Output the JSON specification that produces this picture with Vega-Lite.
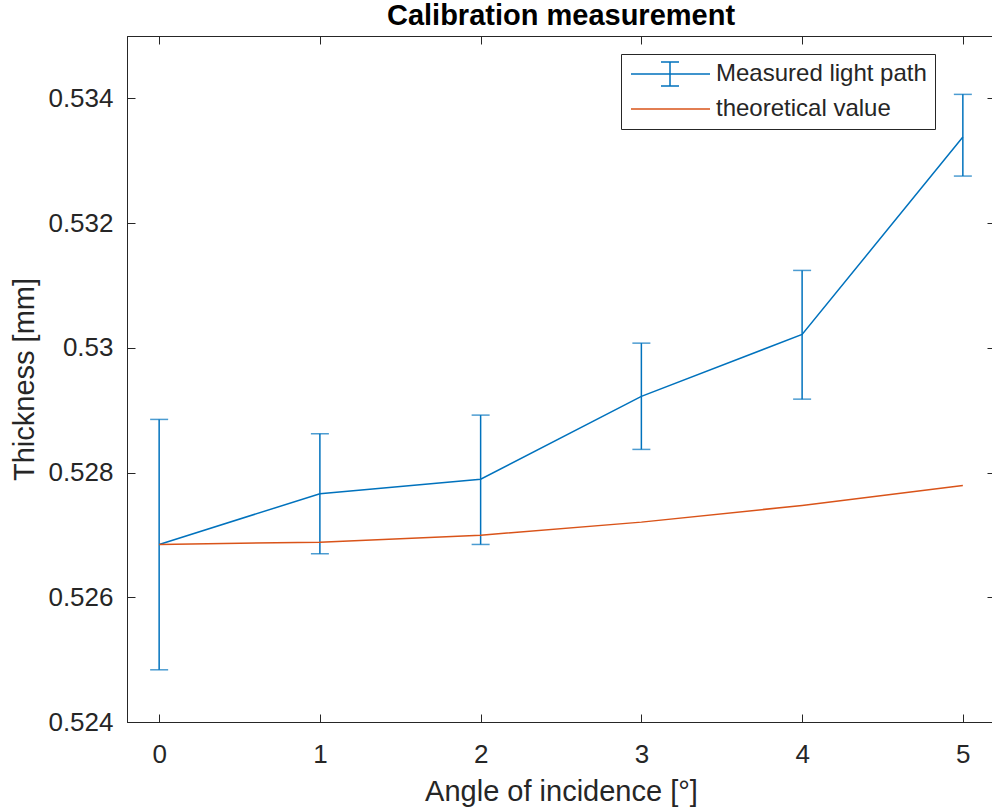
{
  "$schema": "https://vega.github.io/schema/vega-lite/v6.json",
  "autosize": "none",
  "width": 868,
  "height": 686,
  "padding": {"left": 127, "top": 36, "right": 0, "bottom": 87},
  "background": "white",
  "title": {
    "text": "Calibration measurement",
    "font": "Liberation Sans",
    "fontSize": 29,
    "fontWeight": "bold",
    "color": "#000000",
    "anchor": "middle",
    "baseline": "top",
    "offset": 5
  },
  "config": {
    "view": {"stroke": "#262626", "strokeWidth": 1},
    "font": "Liberation Sans",
    "axis": {
      "grid": false,
      "domainColor": "#262626",
      "tickColor": "#262626",
      "labelColor": "#262626",
      "titleColor": "#262626",
      "labelFont": "Liberation Sans",
      "titleFont": "Liberation Sans",
      "labelFontSize": 26,
      "titleFontSize": 29,
      "titleFontWeight": "normal",
      "tickSize": -8,
      "labelFlush": false,
      "labelOverlap": false
    }
  },
  "datasets": {
    "measured": [
      {"angle": 0, "value": 0.526847, "lower": 0.524837, "upper": 0.528852, "series": "Measured light path"},
      {"angle": 1, "value": 0.52766, "lower": 0.526698, "upper": 0.528622, "series": "Measured light path"},
      {"angle": 2, "value": 0.527894, "lower": 0.526847, "upper": 0.528921, "series": "Measured light path"},
      {"angle": 3, "value": 0.529221, "lower": 0.528371, "upper": 0.530075, "series": "Measured light path"},
      {"angle": 4, "value": 0.530215, "lower": 0.529177, "upper": 0.531241, "series": "Measured light path"},
      {"angle": 5, "value": 0.533379, "lower": 0.532754, "upper": 0.534064, "series": "Measured light path"}
    ],
    "theory": [
      {"angle": 0, "value": 0.526847, "series": "theoretical value"},
      {"angle": 1, "value": 0.526884, "series": "theoretical value"},
      {"angle": 2, "value": 0.526996, "series": "theoretical value"},
      {"angle": 3, "value": 0.527205, "series": "theoretical value"},
      {"angle": 4, "value": 0.527472, "series": "theoretical value"},
      {"angle": 5, "value": 0.527793, "series": "theoretical value"}
    ]
  },
  "layer": [
    {
      "data": {"name": "measured"},
      "mark": {"type": "rule", "color": "#0072BD", "strokeWidth": 1.5},
      "encoding": {
        "x": {
          "field": "angle", "type": "quantitative",
          "scale": {"domain": [-0.2, 5.2], "nice": false, "zero": false},
          "axis": {
            "orient": "bottom",
            "title": "Angle of incidence [°]",
            "values": [0, 1, 2, 3, 4, 5],
            "format": "d",
            "labelPadding": 27.5,
            "titleY": 78.5,
            "titleBaseline": "alphabetic"
          }
        },
        "y": {
          "field": "lower", "type": "quantitative",
          "scale": {"domain": [0.524, 0.535], "nice": false, "zero": false},
          "axis": {
            "orient": "left",
            "title": "Thickness [mm]",
            "values": [0.524, 0.526, 0.528, 0.53, 0.532, 0.534],
            "format": ".3~f",
            "labelPadding": 22,
            "titleX": -94,
            "titleY": 343,
            "titleAngle": -90,
            "titleAlign": "center",
            "titleBaseline": "alphabetic"
          }
        },
        "y2": {"field": "upper"}
      }
    },
    {
      "data": {"name": "measured"},
      "mark": {"type": "tick", "orient": "horizontal", "color": "#0072BD", "size": 18, "thickness": 1.5},
      "encoding": {
        "x": {"field": "angle", "type": "quantitative", "axis": null},
        "y": {"field": "lower", "type": "quantitative", "axis": null}
      }
    },
    {
      "data": {"name": "measured"},
      "mark": {"type": "tick", "orient": "horizontal", "color": "#0072BD", "size": 18, "thickness": 1.5},
      "encoding": {
        "x": {"field": "angle", "type": "quantitative", "axis": null},
        "y": {"field": "upper", "type": "quantitative", "axis": null}
      }
    },
    {
      "data": {"name": "measured"},
      "mark": {"type": "line", "strokeWidth": 1.5},
      "encoding": {
        "x": {"field": "angle", "type": "quantitative", "axis": null},
        "y": {"field": "value", "type": "quantitative", "axis": null},
        "color": {
          "field": "series", "type": "nominal",
          "scale": {"domain": ["Measured light path", "theoretical value"], "range": ["#0072BD", "#D95319"]},
          "legend": {
            "orient": "none",
            "legendX": 494,
            "legendY": 18,
            "title": null,
            "strokeColor": "#262626",
            "fillColor": "white",
            "padding": 8,
            "symbolSize": 400,
            "symbolStrokeWidth": 1.5,
            "labelFont": "Liberation Sans",
            "labelFontSize": 24,
            "labelColor": "#262626",
            "labelOffset": 63,
            "labelLimit": 0,
            "rowPadding": 8,
            "encode": {
              "symbols": {
                "update": {
                  "shape": {"signal": "datum.value === 'Measured light path' ? 'M-1,0H6.9M2.9,-1.2V1.2M2,-1.2H3.8M2,1.2H3.8' : 'M-1,0H6.9'"},
                  "fill": {"value": "transparent"}
                }
              }
            }
          }
        }
      }
    },
    {
      "data": {"name": "theory"},
      "mark": {"type": "line", "strokeWidth": 1.5},
      "encoding": {
        "x": {
          "field": "angle", "type": "quantitative",
          "axis": {"orient": "top", "title": null, "labels": false, "values": [0, 1, 2, 3, 4, 5]}
        },
        "y": {
          "field": "value", "type": "quantitative",
          "axis": {"orient": "right", "title": null, "labels": false, "values": [0.524, 0.526, 0.528, 0.53, 0.532, 0.534]}
        },
        "color": {"field": "series", "type": "nominal"}
      }
    }
  ],
  "resolve": {"axis": {"x": "independent", "y": "independent"}}
}
